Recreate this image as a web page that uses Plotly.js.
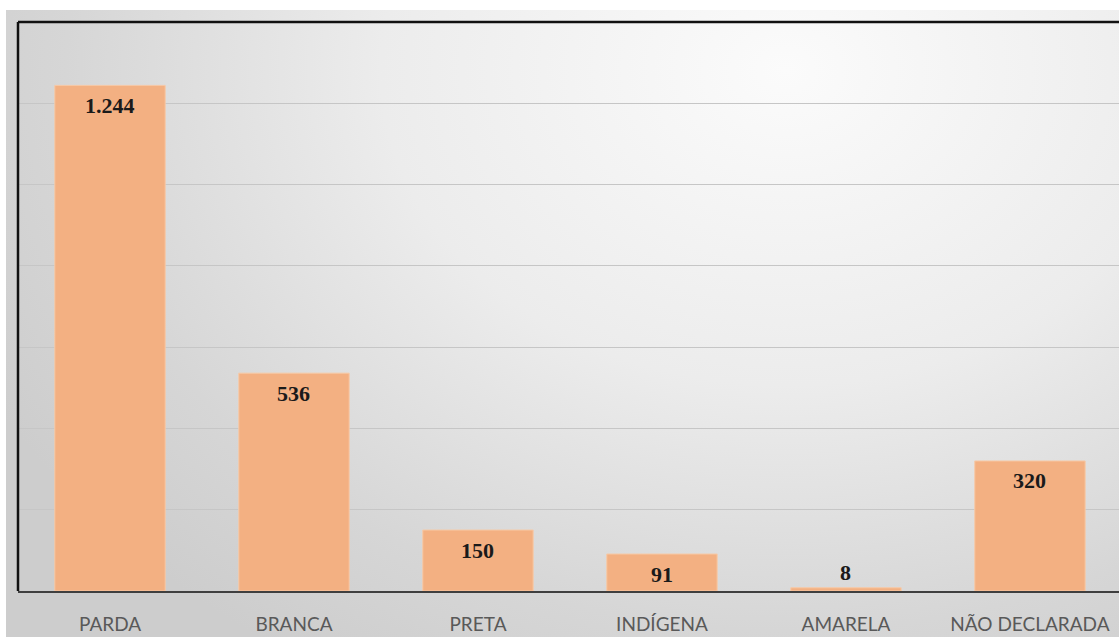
<!DOCTYPE html>
<html>
<head>
<meta charset="utf-8">
<script src="https://cdn.plot.ly/plotly-3.0.1.min.js"></script>
<style>
  html, body { margin: 0; padding: 0; background: #ffffff; width: 1119px; height: 637px; overflow: hidden; }
  #bg {
    position: absolute; left: 6px; top: 10px; width: 1113px; height: 627px;
    background: radial-gradient(ellipse 900px 700px at 780px 60px, #fbfbfb 0%, #ececec 45%, #d6d6d6 80%, #cdcdcd 100%);
  }
  #chart { position: absolute; left: 0; top: 0; width: 1119px; height: 637px; }
</style>
</head>
<body>
<div id="bg"></div>
<div id="chart"></div>
<script>
const categories = ["PARDA", "BRANCA", "PRETA", "INDÍGENA", "AMARELA", "NÃO DECLARADA"];
const values = [1244, 536, 150, 91, 8, 320];
const labelInside = [true, true, true, true, false, true];

function fmt(v) {
  return String(v).replace(/\B(?=(\d{3})+(?!\d))/g, ".");
}

const trace = {
  type: "bar",
  x: categories,
  y: values,
  width: 0.6,
  marker: { color: "#f3b082", line: { color: "#f7c9a6", width: 1 } },
  hoverinfo: "none"
};

const labelFont = { family: "Liberation Serif, Times New Roman, serif", size: 22, color: "#1a1a1a", weight: "bold" };

const annotations = categories.map((c, i) => ({
  x: c,
  y: values[i],
  xref: "x",
  yref: "y",
  text: "<b>" + fmt(values[i]) + "</b>",
  showarrow: false,
  yanchor: labelInside[i] ? "middle" : "bottom",
  yshift: labelInside[i] ? -20 : 1,
  font: labelFont
}));

const layout = {
  width: 1119,
  height: 637,
  margin: { l: 18, r: 0, t: 22, b: 46, pad: 0 },
  paper_bgcolor: "rgba(0,0,0,0)",
  plot_bgcolor: "rgba(0,0,0,0)",
  showlegend: false,
  xaxis: {
    type: "category",
    range: [-0.5, 5.484],
    showgrid: false,
    showline: true,
    linecolor: "#3f3f3f",
    linewidth: 2,
    ticks: "",
    tickfont: { family: "Lato, Carlito, Calibri, sans-serif", size: 19, color: "#595959" },
    ticklabelstandoff: 15
  },
  yaxis: {
    range: [0, 1400],
    dtick: 200,
    showgrid: true,
    gridcolor: "#c6c6c6",
    gridwidth: 1,
    showticklabels: false,
    zeroline: false,
    showline: false,
    fixedrange: true
  },
  annotations: annotations,
  shapes: [
    { type: "line", xref: "paper", yref: "paper", x0: 0, x1: 1.01, y0: 1, y1: 1, line: { color: "#111111", width: 2.5 } },
    { type: "line", xref: "paper", yref: "paper", x0: 0, x1: 0, y0: 0, y1: 1, line: { color: "#111111", width: 2.5 } }
  ]
};

Plotly.newPlot("chart", [trace], layout, { displayModeBar: false, staticPlot: true });
</script>
</body>
</html>
